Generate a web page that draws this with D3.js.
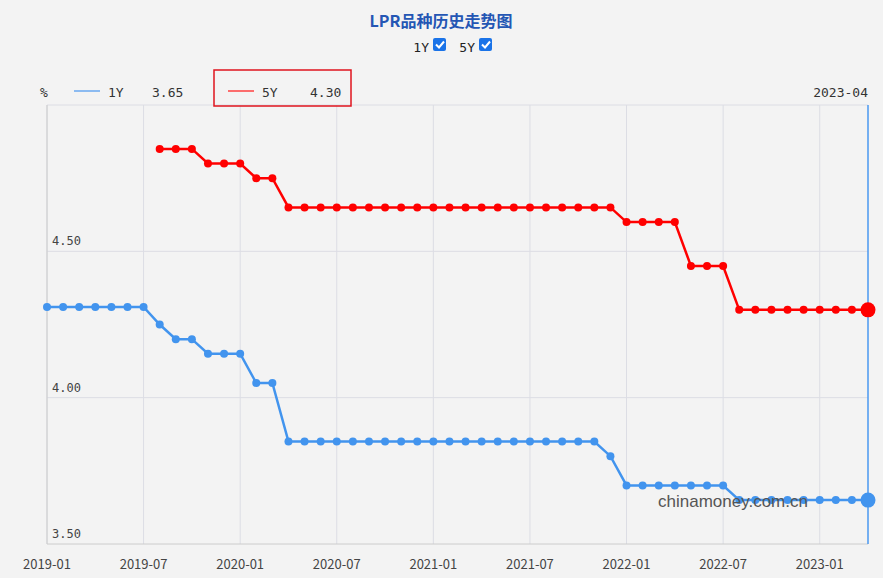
<!DOCTYPE html><html><head><meta charset="utf-8"><script src="https://cdn.jsdelivr.net/npm/d3@7"></script>
<style>body{margin:0;background:#f3f3f3}</style></head><body><svg id="c" width="883" height="578"></svg>
<script>
const months=[];for(let y=2019;y<=2023;y++)for(let m=1;m<=12;m++){if(y===2023&&m>4)break;months.push(y+"-"+String(m).padStart(2,"0"));}
const y1=[4.31,4.31,4.31,4.31,4.31,4.31,4.31,4.25,4.20,4.20,4.15,4.15,4.15,4.05,4.05,
3.85,3.85,3.85,3.85,3.85,3.85,3.85,3.85,3.85,3.85,3.85,3.85,3.85,3.85,3.85,3.85,3.85,3.85,3.85,3.85,3.80,
3.70,3.70,3.70,3.70,3.70,3.70,3.70,3.65,3.65,3.65,3.65,3.65,3.65,3.65,3.65,3.65];
const y5=[null,null,null,null,null,null,null,4.85,4.85,4.85,4.80,4.80,4.80,4.75,4.75,
4.65,4.65,4.65,4.65,4.65,4.65,4.65,4.65,4.65,4.65,4.65,4.65,4.65,4.65,4.65,4.65,4.65,4.65,4.65,4.65,4.65,
4.60,4.60,4.60,4.60,4.45,4.45,4.45,4.30,4.30,4.30,4.30,4.30,4.30,4.30,4.30,4.30];
const xTicks=["2019-01","2019-07","2020-01","2020-07","2021-01","2021-07","2022-01","2022-07","2023-01"];
const yTicks=[3.5,4.0,4.5];
const svg=d3.select("#c");
const L=47,R=868,T=105,B=544;
const x=d3.scalePoint().domain(months).range([L,R]);
const y=d3.scaleLinear().domain([3.5,5.0]).range([B,T]);
const g=svg.append("g");
g.selectAll(".vg").data(xTicks).join("line").attr("x1",d=>x(d)).attr("x2",d=>x(d)).attr("y1",T).attr("y2",B).attr("stroke","#dcdde4");
g.selectAll(".hg").data([4.0,4.5,5.0]).join("line").attr("x1",L).attr("x2",R).attr("y1",d=>y(d)).attr("y2",d=>y(d)).attr("stroke","#dcdde4");
g.append("line").attr("x1",L).attr("x2",L).attr("y1",T).attr("y2",B).attr("stroke","#ccc");
g.append("line").attr("x1",L).attr("x2",R).attr("y1",B).attr("y2",B).attr("stroke","#ccc");
g.append("line").attr("x1",R).attr("x2",R).attr("y1",T).attr("y2",B).attr("stroke","#4a98f0").attr("stroke-width",1.5);
const f="'Noto Sans CJK SC',sans-serif", mono="'DejaVu Sans Mono',monospace";
g.selectAll(".xt").data(xTicks).join("text").attr("x",d=>x(d)).attr("y",569).attr("text-anchor","middle").attr("font-family",f).attr("font-size",13).attr("fill","#444").text(d=>d);
g.selectAll(".yt").data(yTicks).join("text").attr("x",52).attr("y",d=>y(d)-6).attr("font-family",mono).attr("font-size",12).attr("fill","#444").text(d=>d.toFixed(2));
svg.append("text").attr("x",658).attr("y",507).attr("font-family","'Liberation Sans',sans-serif").attr("font-size",17).attr("fill","#555").text("chinamoney.com.cn");
function series(vals,col){
  const data=months.map((m,i)=>({m,v:vals[i]})).filter(d=>d.v!=null);
  g.append("path").datum(data).attr("fill","none").attr("stroke",col).attr("stroke-width",2.5).attr("d",d3.line().x(d=>x(d.m)).y(d=>y(d.v)));
  g.selectAll(null).data(data).join("circle").attr("cx",d=>x(d.m)).attr("cy",d=>y(d.v)).attr("r",(d,i)=>i===data.length-1?7.5:4).attr("fill",col);
}
series(y1,"#4294ee");series(y5,"#ff0000");
// title
svg.append("text").attr("x",441).attr("y",27).attr("text-anchor","middle").attr("font-family","'Noto Sans CJK SC',serif").attr("font-weight","bold").attr("font-size",16).attr("fill","#2456b4").text("LPR品种历史走势图");
function cb(xp,label){
  svg.append("text").attr("x",xp).attr("y",52).attr("text-anchor","end").attr("font-family",mono).attr("font-size",13).attr("fill","#222").text(label);
  svg.append("rect").attr("x",xp+4).attr("y",38).attr("width",13).attr("height",13).attr("rx",2).attr("fill","#1a73e8");
  svg.append("path").attr("d",`M${xp+7},${44.5} l3,3 l5,-6`).attr("stroke","#fff").attr("stroke-width",2).attr("fill","none");
}
cb(429,"1Y");cb(475,"5Y");
// legend
const lt=(xp,t,c)=>svg.append("text").attr("x",xp).attr("y",97).attr("font-family",mono).attr("font-size",13).attr("fill",c||"#333").text(t);
lt(40,"%");
svg.append("line").attr("x1",74).attr("x2",100).attr("y1",91).attr("y2",91).attr("stroke","#6aa8f0").attr("stroke-width",1.5);
lt(108,"1Y");lt(152,"3.65");
svg.append("rect").attr("x",214).attr("y",70).attr("width",137).attr("height",36).attr("fill","none").attr("stroke","#e0141e").attr("stroke-width",1.5);
svg.append("line").attr("x1",228).attr("x2",254).attr("y1",91).attr("y2",91).attr("stroke","#ff4040").attr("stroke-width",1.5);
lt(262,"5Y");lt(310,"4.30");
svg.append("text").attr("x",868).attr("y",97).attr("text-anchor","end").attr("font-family",mono).attr("font-size",13).attr("fill","#333").text("2023-04");
</script></body></html>
